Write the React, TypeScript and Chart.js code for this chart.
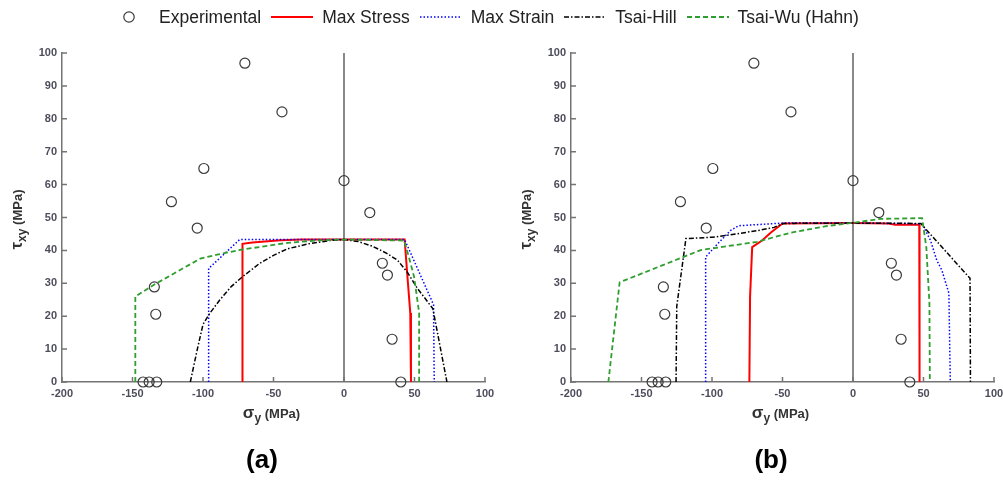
import React, { useEffect, useRef } from "react";
import { Chart, registerables } from "chart.js";

Chart.register(...registerables);

// ---------- data ----------
const xTicks = [-200, -150, -100, -50, 0, 50, 100];
const yTicks = [0, 10, 20, 30, 40, 50, 60, 70, 80, 90, 100];

const expX = [-70.3, -44, -99.4, -122.4, -104.1, 0, 18.3, 27.2, 30.8, 34.1, 40.3, -134.5, -133.5, -142.5, -138.2, -132.8];
const expY = [96.9, 82.1, 64.9, 54.8, 46.8, 61.2, 51.5, 36.1, 32.5, 13, 0, 28.9, 20.6, 0, 0, 0];

const zeroX = [0, 0];
const zeroY = [0, 100];

// panel (a)
const msAx = [-72, -72, -65, -45, -30, 43, 45, 47, 47.5];
const msAy = [0, 42, 42.4, 43.1, 43.3, 43.3, 32, 21, 0];
const mstrAx = [-96, -96, -74, 43, 63.5, 64];
const mstrAy = [0, 34.5, 43.3, 43.3, 23.5, 0];
const thAx = [-109, -104, -100, -95, -88, -80, -72, -60, -50, -40, -25, -10, 0, 10, 20, 30, 38, 45, 52, 63, 73];
const thAy = [0, 10, 17.5, 21, 25, 29, 32, 36, 38.5, 40.5, 42, 43, 43.3, 42.7, 41.3, 39.2, 37, 33.3, 28.5, 22.3, 0];
const twAx = [-148, -148, -135, -102, -90, -73, -40, -20, 0, 42.6, 46, 49.7, 53.3, 53.3];
const twAy = [0, 26, 29.5, 37.5, 38.7, 40.2, 42.3, 43, 43.3, 43, 38, 32, 21, 0];

// panel (b)
const msBx = [-73.5, -73, -71.5, -64.5, -58, -50, 0, 25, 30, 47, 47.2];
const msBy = [0, 26, 41, 43, 45.5, 48.2, 48.3, 48.2, 47.8, 47.8, 0];
const mstrBx = [-104.5, -104.5, -96, -87, -81, -50, 0, 49, 55, 59.4, 63, 68, 69];
const mstrBy = [0, 38, 42, 46, 47.5, 48.3, 48.3, 48.1, 43, 37, 34, 27, 0];
const thBx = [-125.5, -125, -118.5, -100, -89, -68, -56, -49, 0, 48, 83, 83.3];
const thBy = [0, 23, 43.6, 44, 44.6, 46, 47, 48.2, 48.3, 48.2, 31.5, 0];
const twBx = [-173.5, -165.5, -108, -68, -45, -20, 0, 20, 49, 52, 54.2, 54.5];
const twBy = [0, 30.3, 40.1, 42.6, 45.3, 47.3, 48.4, 49.6, 49.8, 41, 24, 0];

// ---------- styles ----------
const FONT = "'Liberation Sans', Arial, Helvetica, sans-serif";
const AXIS = "#747474";
const TICKTXT = "#4d4d5c";
const RED = "#ff0000";
const BLUE = "#0000ff";
const BLACK = "#000000";
const GREEN = "#2f9e2f";

const pts = (xs: number[], ys: number[]) => xs.map((x, i) => ({ x, y: ys[i] }));

function drawParts(ctx: CanvasRenderingContext2D, cx: number, baseY: number, parts: { t: string; size: number; dy: number }[]) {
  let total = 0;
  for (const p of parts) {
    ctx.font = `bold ${p.size}px ${FONT}`;
    total += ctx.measureText(p.t).width;
  }
  let x = cx - total / 2;
  ctx.textAlign = "left";
  ctx.textBaseline = "alphabetic";
  for (const p of parts) {
    ctx.font = `bold ${p.size}px ${FONT}`;
    ctx.fillText(p.t, x, baseY + p.dy);
    x += ctx.measureText(p.t).width;
  }
}

const decor = {
  id: "decor",
  afterDatasetsDraw(chart: any) {
    const { ctx, chartArea, scales } = chart;
    const xs = scales.x;
    const ys = scales.y;
    ctx.save();
    ctx.strokeStyle = AXIS;
    ctx.lineWidth = 1.5;
    ctx.beginPath();
    for (const t of xs.ticks) {
      const px = xs.getPixelForValue(t.value);
      ctx.moveTo(px, chartArea.bottom);
      ctx.lineTo(px, chartArea.bottom - 5);
    }
    for (const t of ys.ticks) {
      const py = ys.getPixelForValue(t.value);
      ctx.moveTo(chartArea.left, py);
      ctx.lineTo(chartArea.left + 5, py);
    }
    ctx.stroke();
    ctx.restore();
  },
  afterDraw(chart: any) {
    const { ctx, chartArea } = chart;
    ctx.save();
    ctx.fillStyle = "#333333";
    const cx = (chartArea.left + chartArea.right) / 2 - 2;
    drawParts(ctx, cx, chartArea.bottom + 36, [
      { t: "σ", size: 17, dy: 0 },
      { t: "y", size: 12, dy: 4 },
      { t: " (MPa)", size: 13, dy: 0 },
    ]);
    ctx.translate(22, (chartArea.top + chartArea.bottom) / 2 + 2);
    ctx.rotate(-Math.PI / 2);
    drawParts(ctx, 0, 0, [
      { t: "τ", size: 17, dy: 0 },
      { t: "xy", size: 12, dy: 4 },
      { t: " (MPa)", size: 13, dy: 0 },
    ]);
    ctx.restore();
  },
};

type Series = { ms: [number[], number[]]; mstr: [number[], number[]]; th: [number[], number[]]; tw: [number[], number[]] };

function Panel({ left, s }: { left: number; s: Series }) {
  const ref = useRef<HTMLCanvasElement>(null);
  useEffect(() => {
    const tickFont = { family: FONT, size: 11, weight: "bold" as const };
    const chart = new Chart(ref.current!, {
      type: "scatter",
      data: {
        datasets: [
          {
            label: "zero",
            data: pts(zeroX, zeroY),
            showLine: true,
            borderColor: "#3a3a3a",
            borderWidth: 1.2,
            pointRadius: 0,
            order: 10,
          },
          {
            label: "Experimental",
            data: pts(expX, expY),
            showLine: false,
            pointStyle: "circle",
            pointRadius: 5,
            borderColor: "#3a3a3a",
            backgroundColor: "rgba(0,0,0,0)",
            pointBorderWidth: 1.2,
            clip: false as any,
            order: 0,
          },
          {
            label: "Max Stress",
            data: pts(s.ms[0], s.ms[1]),
            showLine: true,
            borderColor: RED,
            borderWidth: 2,
            pointRadius: 0,
            order: 5,
          },
          {
            label: "Max Strain",
            data: pts(s.mstr[0], s.mstr[1]),
            showLine: true,
            borderColor: BLUE,
            borderWidth: 1.5,
            borderDash: [1.5, 2],
            pointRadius: 0,
            order: 4,
          },
          {
            label: "Tsai-Hill",
            data: pts(s.th[0], s.th[1]),
            showLine: true,
            borderColor: BLACK,
            borderWidth: 1.5,
            borderDash: [5, 2, 1.5, 2],
            pointRadius: 0,
            order: 3,
          },
          {
            label: "Tsai-Wu (Hahn)",
            data: pts(s.tw[0], s.tw[1]),
            showLine: true,
            borderColor: GREEN,
            borderWidth: 1.8,
            borderDash: [5, 3],
            pointRadius: 0,
            order: 2,
          },
        ],
      },
      options: {
        responsive: false,
        animation: false,
        events: [],
        layout: { padding: { left: 0, top: 53, right: 24, bottom: 48 } },
        plugins: { legend: { display: false }, tooltip: { enabled: false } },
        elements: { line: { tension: 0 } },
        scales: {
          x: {
            type: "linear",
            min: -200,
            max: 100,
            afterBuildTicks: (sc: any) => {
              sc.ticks = xTicks.map((v) => ({ value: v }));
            },
            afterFit: (sc: any) => {
              sc.height = 50;
            },
            grid: { display: false, drawTicks: false },
            border: { display: true, color: AXIS, width: 1.5 },
            ticks: { padding: 5, font: tickFont, color: TICKTXT, autoSkip: false, maxRotation: 0 },
          },
          y: {
            type: "linear",
            min: 0,
            max: 100,
            afterBuildTicks: (sc: any) => {
              sc.ticks = yTicks.map((v) => ({ value: v }));
            },
            afterFit: (sc: any) => {
              sc.width = 62;
            },
            grid: { display: false, drawTicks: false },
            border: { display: true, color: AXIS, width: 1.5 },
            ticks: { padding: 5, font: tickFont, color: TICKTXT, autoSkip: false },
          },
        },
      } as any,
      plugins: [decor],
    });
    return () => chart.destroy();
  }, []);
  return (
    <canvas
      ref={ref}
      width={509}
      height={480}
      style={{ position: "absolute", left, top: 0, width: 509, height: 480 }}
    />
  );
}

function Icon({ kind }: { kind: string }) {
  const common = { x1: 1, x2: 43, y1: 8, y2: 8, fill: "none" } as any;
  let el: any;
  if (kind === "exp") el = <circle cx={22} cy={8} r={5.2} stroke="#3a3a3a" strokeWidth={1.2} fill="none" />;
  else if (kind === "ms") el = <line {...common} stroke={RED} strokeWidth={2} />;
  else if (kind === "mstr") el = <line {...common} stroke={BLUE} strokeWidth={1.5} strokeDasharray="1.5 2" />;
  else if (kind === "th") el = <line {...common} stroke={BLACK} strokeWidth={1.5} strokeDasharray="5 2 1.5 2" />;
  else el = <line {...common} stroke={GREEN} strokeWidth={1.8} strokeDasharray="5 3" />;
  return (
    <svg width={44} height={16} style={{ marginRight: 8, display: "block" }}>
      {el}
    </svg>
  );
}

const legendItems = [
  { kind: "exp", text: "Experimental" },
  { kind: "ms", text: "Max Stress" },
  { kind: "mstr", text: "Max Strain" },
  { kind: "th", text: "Tsai-Hill" },
  { kind: "tw", text: "Tsai-Wu (Hahn)" },
];

export default function App() {
  const sA: Series = { ms: [msAx, msAy], mstr: [mstrAx, mstrAy], th: [thAx, thAy], tw: [twAx, twAy] };
  const sB: Series = { ms: [msBx, msBy], mstr: [mstrBx, mstrBy], th: [thBx, thBy], tw: [twBx, twBy] };
  return (
    <div
      style={{
        position: "absolute",
        left: 0,
        top: 0,
        width: 1003,
        height: 480,
        overflow: "hidden",
        background: "#ffffff",
        fontFamily: FONT,
      }}
    >
      <Panel left={0} s={sA} />
      <Panel left={509} s={sB} />
      <div
        style={{
          position: "absolute",
          left: 107,
          top: 0,
          height: 33,
          display: "flex",
          alignItems: "center",
          whiteSpace: "nowrap",
        }}
      >
        {legendItems.map((it) => (
          <div key={it.text} style={{ display: "flex", alignItems: "center", marginRight: 9 }}>
            <Icon kind={it.kind} />
            <span style={{ fontSize: 17.5, color: "#222", lineHeight: "20px" }}>{it.text}</span>
          </div>
        ))}
      </div>
      <div style={{ position: "absolute", left: 222, top: 443, width: 80, textAlign: "center", fontSize: 26, fontWeight: "bold", color: "#000", lineHeight: "32px" }}>
        (a)
      </div>
      <div style={{ position: "absolute", left: 731, top: 443, width: 80, textAlign: "center", fontSize: 26, fontWeight: "bold", color: "#000", lineHeight: "32px" }}>
        (b)
      </div>
    </div>
  );
}
